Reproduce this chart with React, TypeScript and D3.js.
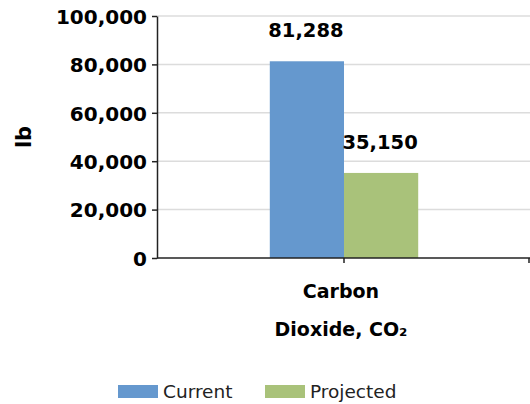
import * as d3 from 'd3';
import { useEffect, useRef } from 'react';

const categories = ['Carbon|Dioxide, CO₂'];
const seriesNames = ['Current', 'Projected'];
const seriesColors = ['#6598ce', '#a9c27a'];
const currentValues = [81288];
const projectedValues = [35150];
const yTicks = [0, 20000, 40000, 60000, 80000, 100000];

export default function App() {
    const svgRef = useRef<SVGSVGElement>(null);

    useEffect(() => {
        if (!svgRef.current) return;
        const width = 530;
        const height = 404;
        const margin = { top: 16, right: 0, bottom: 146, left: 157 };
        const font = "'DejaVu Sans', Verdana, sans-serif";

        const svg = d3.select(svgRef.current).attr('width', width).attr('height', height).style('display', 'block');
        svg.selectAll('*').remove();

        const x = d3
            .scaleBand<string>()
            .domain(categories)
            .range([margin.left, width - margin.right + 1])
            .paddingInner(0)
            .paddingOuter(0);

        const x1 = d3
            .scaleBand<string>()
            .domain(seriesNames)
            .range([0, x.bandwidth()])
            .paddingOuter(1.52)
            .paddingInner(0);

        const y = d3.scaleLinear().domain([0, 100000]).range([height - margin.bottom, margin.top]);

        // gridlines
        svg.append('g')
            .selectAll('line')
            .data(yTicks.filter((t) => t > 0))
            .join('line')
            .attr('x1', margin.left)
            .attr('x2', width)
            .attr('y1', (d) => y(d))
            .attr('y2', (d) => y(d))
            .attr('stroke', '#dcdcdc')
            .attr('stroke-width', 1.5);

        // bars
        const rows = categories.map((c, i) => ({ cat: c, values: [currentValues[i], projectedValues[i]] }));
        const groups = svg
            .append('g')
            .selectAll('g')
            .data(rows)
            .join('g')
            .attr('transform', (d) => `translate(${x(d.cat)},0)`);

        groups
            .selectAll('rect')
            .data((d) => d.values.map((v, i) => ({ name: seriesNames[i], v, i })))
            .join('rect')
            .attr('x', (d) => x1(d.name)!)
            .attr('width', x1.bandwidth())
            .attr('y', (d) => y(d.v))
            .attr('height', (d) => y(0) - y(d.v))
            .attr('fill', (d) => seriesColors[d.i]);

        groups
            .selectAll('text')
            .data((d) => d.values.map((v, i) => ({ name: seriesNames[i], v })))
            .join('text')
            .attr('x', (d) => x1(d.name)! + x1.bandwidth() / 2 - 1)
            .attr('y', (d) => y(d.v) - 24)
            .attr('text-anchor', 'middle')
            .attr('font-family', font)
            .attr('font-weight', 'bold')
            .attr('font-size', 19.5)
            .attr('fill', '#000')
            .text((d) => d3.format(',')(d.v));

        // y axis
        const yAxis = svg
            .append('g')
            .attr('transform', `translate(${margin.left},0)`)
            .call(d3.axisLeft(y).tickValues(yTicks).tickSize(5).tickSizeOuter(0).tickPadding(5).tickFormat(d3.format(',')));
        yAxis.select('.domain').attr('stroke', '#222').attr('stroke-width', 1.5);
        yAxis.selectAll('.tick line').attr('stroke', '#222').attr('stroke-width', 1.5);
        yAxis.selectAll('text').attr('fill', '#000').attr('font-family', font).attr('font-weight', 'bold').attr('font-size', 20).attr('dy', '0.36em');

        // x axis
        const xAxisG = svg.append('g').attr('transform', `translate(0,${y(0)})`);
        xAxisG.append('line').attr('x1', margin.left).attr('x2', width).attr('stroke', '#222').attr('stroke-width', 1.5);
        const center = x(categories[0])! + x1(seriesNames[1])!;
        xAxisG
            .selectAll('line.tk')
            .data([center, width - 1])
            .join('line')
            .attr('class', 'tk')
            .attr('x1', (d) => d)
            .attr('x2', (d) => d)
            .attr('y1', 0)
            .attr('y2', 5)
            .attr('stroke', '#222')
            .attr('stroke-width', 1.5);

        categories.forEach((c) => {
            const cx = x(c)! + x.bandwidth() / 2 - 3;
            const t = svg
                .append('text')
                .attr('x', cx)
                .attr('y', 298)
                .attr('text-anchor', 'middle')
                .attr('font-family', font)
                .attr('font-weight', 'bold')
                .attr('font-size', 19)
                .attr('fill', '#000');
            c.split('|').forEach((line, i) => {
                t.append('tspan')
                    .attr('x', cx)
                    .attr('dy', i === 0 ? 0 : 38)
                    .text(line);
            });
        });

        // y axis title
        svg.append('text')
            .attr('transform', `translate(31,137) rotate(-90)`)
            .attr('text-anchor', 'middle')
            .attr('font-family', font)
            .attr('font-weight', 'bold')
            .attr('font-size', 21)
            .attr('fill', '#000')
            .text('lb');

        // legend
        const legendX = [118, 265];
        const legend = svg
            .append('g')
            .selectAll('g')
            .data(seriesNames)
            .join('g')
            .attr('transform', (_d, i) => `translate(${legendX[i]},385)`);
        legend
            .append('rect')
            .attr('width', 40)
            .attr('height', 13)
            .attr('fill', (_d, i) => seriesColors[i]);
        legend
            .append('text')
            .attr('x', 45)
            .attr('y', 13)
            .attr('font-family', font)
            .attr('font-size', 18.5)
            .attr('fill', '#222')
            .text((d) => d);
    }, []);

    return (
        <div style={{ position: 'fixed', left: 0, top: 0, width: 530, height: 404, background: '#fff' }}>
            <svg ref={svgRef} />
        </div>
    );
}
